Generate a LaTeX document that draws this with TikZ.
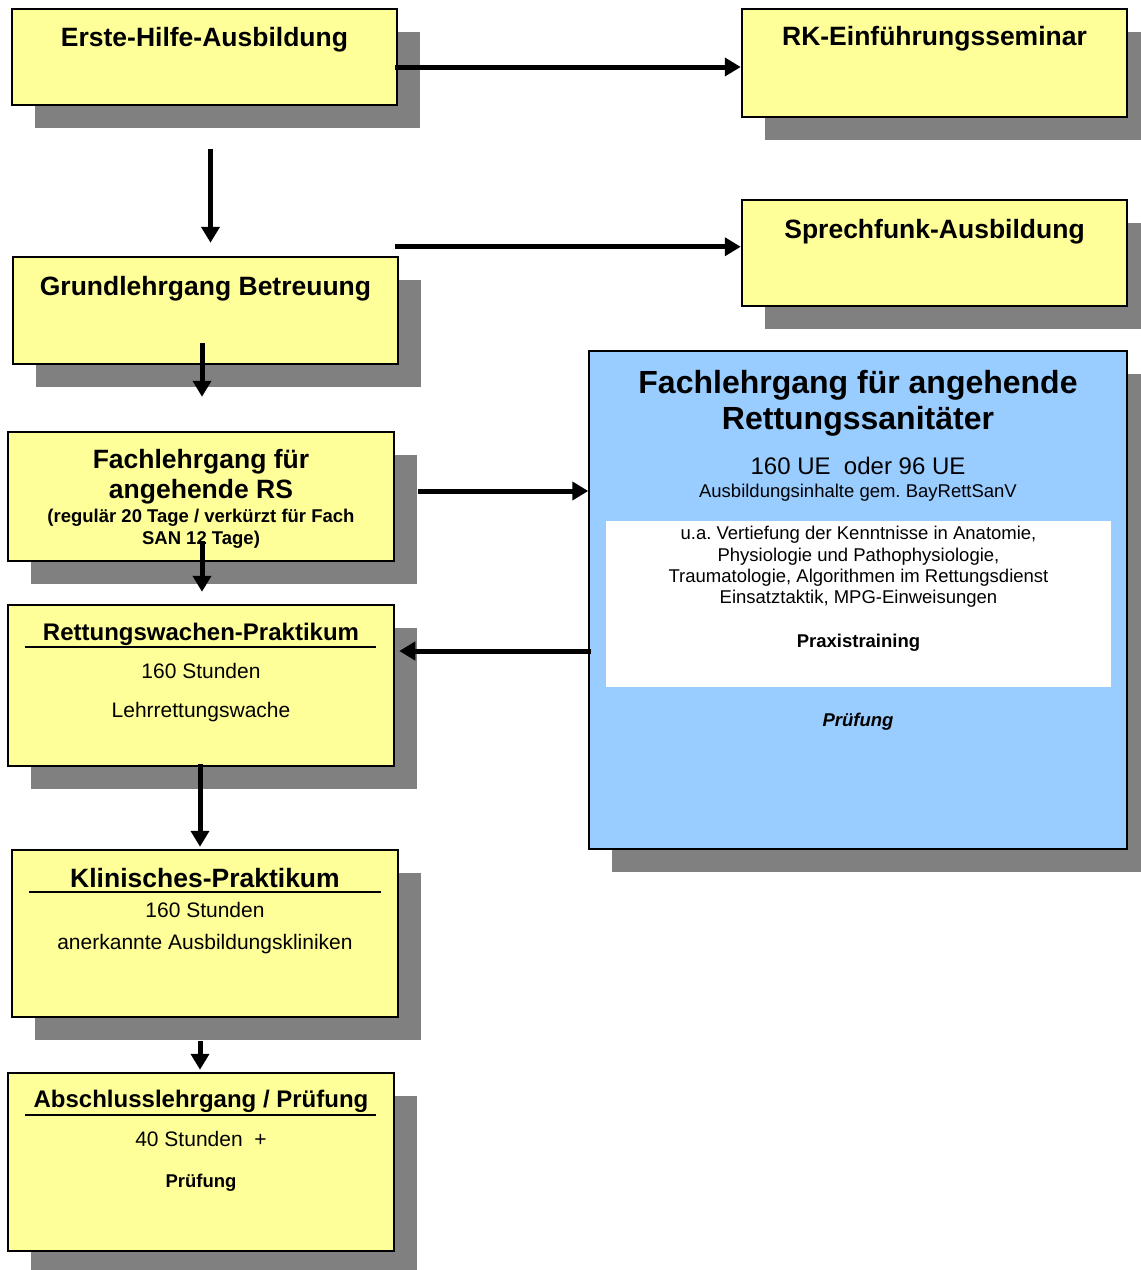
\documentclass[tikz,border=0pt]{standalone}
\usepackage{fontspec}
\setmainfont{Liberation Sans}
\usepackage{tikz}
\usetikzlibrary{calc,shapes,shadows,arrows.meta}
\usetikzlibrary{positioning}
\frenchspacing

\definecolor{boxyellow}{HTML}{FFFF99}
\definecolor{boxblue}{HTML}{99CCFF}
\definecolor{shadowgray}{HTML}{808080}

\begin{document}
\begin{tikzpicture}[x=1pt,y=1pt,
    course/.style={rectangle,draw=black,line width=2.5pt,fill=boxyellow,inner sep=0pt,
        drop shadow={shadow xshift=23pt,shadow yshift=-23pt,fill=shadowgray,opacity=1}},
    bigcourse/.style={course,fill=boxblue,line width=1.5pt},
    heading/.style={anchor=base,inner sep=0pt,align=center,yshift=-2pt,font=\bfseries\fontsize{26.5}{30}\selectfont},
    subheading/.style={heading,font=\bfseries\fontsize{24}{28}\selectfont},
    info/.style={anchor=base,inner sep=0pt,align=center,yshift=-2pt,font=\fontsize{21}{25}\selectfont},
    small/.style={anchor=base,inner sep=0pt,align=center,yshift=-2pt,font=\fontsize{18.5}{21.4}\selectfont},
    flow/.style={line width=5pt,-{Triangle[length=16pt,width=18pt]}},
    rule/.style={line width=2pt}
    ]
    \useasboundingbox (0,0) rectangle (1141,-1270);

    % yellow course boxes
    \foreach \name/\cx/\cy/\bw/\bh in {erste/204.5/-57/385/96, rk/934.5/-63/385/108,
        grund/205.5/-310.5/385/107, sprech/934.5/-253/385/106, rs/201/-496.5/386/129,
        rett/201/-685.5/386/161, klin/205/-933.5/386/167, absch/201/-1162/386/178} {
        \node[course,minimum width=\bw pt,minimum height=\bh pt] (\name) at (\cx,\cy) {};
    }
    \node[bigcourse,minimum width=538pt,minimum height=498pt] (rsbig) at (858,-600) {};
    \node[fill=white,inner sep=0pt,minimum width=505pt,minimum height=166pt] (content) at (858.5,-604) {};

    \node[heading] (ersteT) at ([yshift=-37pt]erste.north) {Erste-Hilfe-Ausbildung};
    \node[heading] (rkT) at ([yshift=-36pt]rk.north) {RK-Einführungsseminar};
    \node[heading] (grundT) at ([yshift=-38pt]grund.north) {Grundlehrgang Betreuung};
    \node[heading] (sprechT) at ([yshift=-38pt]sprech.north) {Sprechfunk-Ausbildung};
    % multi-line texts sit on their last line
    \node[heading] (rsT) at ([yshift=-66pt]rs.north) {Fachlehrgang für\\angehende RS};
    \node[small,font=\bfseries\fontsize{18.5}{22}\selectfont] (rsD) at ([yshift=-112pt]rs.north)
        {(regulär 20 Tage / verkürzt für Fach\\SAN 12 Tage)};

    \node[subheading] (rettT) at ([yshift=-35pt]rett.north) {Rettungswachen-Praktikum};
    \draw[rule] ([shift={(18pt,-43pt)}]rett.north west) -- ([shift={(-19pt,-43pt)}]rett.north east);
    \node[info] (rettH) at ([yshift=-73pt]rett.north) {160 Stunden};
    \node[info] (rettO) at ([yshift=-112pt]rett.north) {Lehrrettungswache};

    \node[heading] (klinT) at ([yshift=-37pt]klin.north) {Klinisches-Praktikum};
    \draw[rule] ([shift={(18pt,-43pt)}]klin.north west) -- ([shift={(-18pt,-43pt)}]klin.north east);
    \node[info] (klinH) at ([yshift=-67pt]klin.north) {160 Stunden};
    \node[info] (klinO) at ([yshift=-99pt]klin.north) {anerkannte Ausbildungskliniken};

    \node[subheading] (abschT) at ([yshift=-34pt]absch.north) {Abschlusslehrgang / Prüfung};
    \draw[rule] ([shift={(18pt,-43pt)}]absch.north west) -- ([shift={(-19pt,-43pt)}]absch.north east);
    \node[info] (abschH) at ([yshift=-73pt]absch.north) {40 Stunden\ \ +};
    \node[small,font=\bfseries\fontsize{18.5}{22}\selectfont] (abschP) at ([yshift=-114pt]absch.north) {Prüfung};

    % the blue course
    \node[heading,font=\bfseries\fontsize{32}{35.5}\selectfont] (bigT) at ([yshift=-77pt]rsbig.north)
        {Fachlehrgang für angehende\\Rettungssanitäter};
    \node[info,font=\fontsize{24}{28}\selectfont] (bigH) at ([yshift=-122pt]rsbig.north) {160 UE\ \ oder 96 UE};
    \node[small] (bigL) at ([yshift=-145pt]rsbig.north) {Ausbildungsinhalte gem. BayRettSanV};
    \node[small] (contentT) at ([yshift=-81pt]content.north)
        {u.a. Vertiefung der Kenntnisse in Anatomie,\\Physiologie und Pathophysiologie,\\
        Traumatologie, Algorithmen im Rettungsdienst\\Einsatztaktik, MPG-Einweisungen};
    \node[small,font=\bfseries\fontsize{18.5}{22}\selectfont] (praxis) at ([yshift=-125pt]content.north) {Praxistraining};
    \node[small,font=\bfseries\itshape\fontsize{18.5}{22}\selectfont] (exam) at ([yshift=-374pt]rsbig.north) {Prüfung};

    % connections
    \coordinate (ersteOut) at ([shift={(-3pt,-10pt)}]erste.east);
    \draw[flow] (ersteOut) -- (ersteOut -| rk.west);
    \coordinate (grundOut) at ([shift={(-4pt,9pt)}]grund.north east);
    \draw[flow] (grundOut) -- (grundOut -| sprech.west);
    \coordinate (ersteDown) at ([xshift=6pt]erste.south);
    \draw[flow,shorten <=43pt,shorten >=13pt] (ersteDown) -- (ersteDown |- grund.north);
    \coordinate (grundDown) at ([shift={(-3.5pt,22pt)}]grund.south);
    \draw[flow,shorten >=34pt] (grundDown) -- (grundDown |- rs.north);
    \coordinate (rsOut) at ([shift={(23pt,5.5pt)}]rs.east);
    \draw[flow] (rsOut) -- (rsOut -| rsbig.west);
    \coordinate (rsDown) at ([shift={(1pt,21pt)}]rs.south);
    \draw[flow,shorten >=12pt] (rsDown) -- (rsDown |- rett.north);
    \coordinate (bigOut) at ([shift={(3pt,-51pt)}]rsbig.west);
    \draw[flow,shorten >=4pt] (bigOut) -- (bigOut -| rett.east);
    \coordinate (rettDown) at ([shift={(-1pt,3pt)}]rett.south);
    \draw[flow,shorten >=2pt] (rettDown) -- (rettDown |- klin.north);
    \coordinate (klinDown) at ([shift={(-5pt,-23pt)}]klin.south);
    \draw[flow,shorten >=2pt] (klinDown) -- (klinDown |- absch.north);
\end{tikzpicture}
\end{document}
